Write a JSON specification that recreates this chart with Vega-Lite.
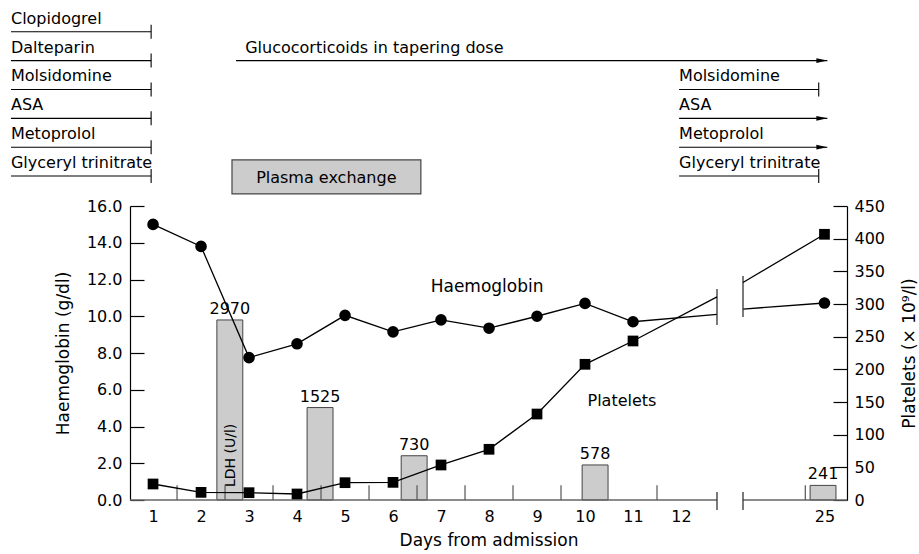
{
  "$schema": "https://vega.github.io/schema/vega-lite/v6.json",
  "width": 717,
  "height": 294,
  "autosize": {"type": "none"},
  "padding": {"left": 130, "top": 206, "right": 72, "bottom": 54},
  "background": "white",
  "config": {
    "font": "DejaVu Sans",
    "view": {"stroke": null},
    "axis": {"grid": false, "labelOverlap": false, "labelFont": "DejaVu Sans", "titleFont": "DejaVu Sans", "labelFontSize": 16, "titleFontSize": 17, "titleFontWeight": "normal", "labelColor": "black", "titleColor": "black", "domainColor": "black", "tickColor": "black", "domainWidth": 1.2, "tickWidth": 1.2},
    "text": {"font": "DejaVu Sans", "fontSize": 16, "color": "black"}
  },
  "datasets": {
    "ldh": [
      {"day": 2.6, "x0": 2.33, "x1": 2.87, "ldh": 2970},
      {"day": 4.48, "x0": 4.21, "x1": 4.75, "ldh": 1525},
      {"day": 6.44, "x0": 6.17, "x1": 6.71, "ldh": 730},
      {"day": 10.21, "x0": 9.94, "x1": 10.48, "ldh": 578},
      {"day": 24.97, "x0": 24.7, "x1": 25.24, "ldh": 241}
    ],
    "hb": [
      {"day": 1, "hb": 15.0, "seg": "a", "kind": "obs"},
      {"day": 2, "hb": 13.8, "seg": "a", "kind": "obs"},
      {"day": 3, "hb": 7.75, "seg": "a", "kind": "obs"},
      {"day": 4, "hb": 8.5, "seg": "a", "kind": "obs"},
      {"day": 5, "hb": 10.05, "seg": "a", "kind": "obs"},
      {"day": 6, "hb": 9.15, "seg": "a", "kind": "obs"},
      {"day": 7, "hb": 9.8, "seg": "a", "kind": "obs"},
      {"day": 8, "hb": 9.35, "seg": "a", "kind": "obs"},
      {"day": 9, "hb": 10.0, "seg": "a", "kind": "obs"},
      {"day": 10, "hb": 10.7, "seg": "a", "kind": "obs"},
      {"day": 11, "hb": 9.7, "seg": "a", "kind": "obs"},
      {"day": 12.75, "hb": 10.1, "seg": "a", "kind": "cut"},
      {"day": 23.3, "hb": 10.39, "seg": "b", "kind": "cut"},
      {"day": 25, "hb": 10.72, "seg": "b", "kind": "obs"}
    ],
    "plt": [
      {"day": 1, "plt": 24.5, "seg": "a", "kind": "obs"},
      {"day": 2, "plt": 11.7, "seg": "a", "kind": "obs"},
      {"day": 3, "plt": 11.2, "seg": "a", "kind": "obs"},
      {"day": 4, "plt": 9.2, "seg": "a", "kind": "obs"},
      {"day": 5, "plt": 26.5, "seg": "a", "kind": "obs"},
      {"day": 6, "plt": 27, "seg": "a", "kind": "obs"},
      {"day": 7, "plt": 53.6, "seg": "a", "kind": "obs"},
      {"day": 8, "plt": 77.6, "seg": "a", "kind": "obs"},
      {"day": 9, "plt": 131.6, "seg": "a", "kind": "obs"},
      {"day": 10, "plt": 207.7, "seg": "a", "kind": "obs"},
      {"day": 11, "plt": 243.4, "seg": "a", "kind": "obs"},
      {"day": 12.75, "plt": 311, "seg": "a", "kind": "cut"},
      {"day": 23.3, "plt": 333, "seg": "b", "kind": "cut"},
      {"day": 25, "plt": 406.7, "seg": "b", "kind": "obs"}
    ],
    "drugs": [
      {"drug": "Clopidogrel", "x0": -1.96, "x1": 0.96, "tx": -1.96, "lvl": 1, "end": "bar"},
      {"drug": "Dalteparin", "x0": -1.96, "x1": 0.96, "tx": -1.96, "lvl": 2, "end": "bar"},
      {"drug": "Molsidomine", "x0": -1.96, "x1": 0.96, "tx": -1.96, "lvl": 3, "end": "bar"},
      {"drug": "ASA", "x0": -1.96, "x1": 0.96, "tx": -1.96, "lvl": 4, "end": "bar"},
      {"drug": "Metoprolol", "x0": -1.96, "x1": 0.96, "tx": -1.96, "lvl": 5, "end": "bar"},
      {"drug": "Glyceryl trinitrate", "x0": -1.96, "x1": 0.96, "tx": -1.96, "lvl": 6, "end": "bar"},
      {"drug": "Glucocorticoids in tapering dose", "x0": 2.73, "x1": 25.06, "tx": 2.92, "lvl": 2, "end": "arrow"},
      {"drug": "Molsidomine", "x0": 11.96, "x1": 24.88, "tx": 11.96, "lvl": 3, "end": "bar"},
      {"drug": "ASA", "x0": 11.96, "x1": 25.06, "tx": 11.96, "lvl": 4, "end": "arrow"},
      {"drug": "Metoprolol", "x0": 11.96, "x1": 25.06, "tx": 11.96, "lvl": 5, "end": "arrow"},
      {"drug": "Glyceryl trinitrate", "x0": 11.96, "x1": 24.88, "tx": 11.96, "lvl": 6, "end": "bar"}
    ],
    "plasma": [
      {"label": "Plasma exchange", "x0": 2.645, "x1": 6.58, "y0": 5.44, "y1": 6.62, "xc": 4.61, "yc": 6.07}
    ],
    "xline": [
      {"x0": 0.52, "x1": 12.75},
      {"x0": 23.3, "x1": 25.47}
    ],
    "halfticks": [
      {"t": 1.5}, {"t": 2.5}, {"t": 3.5}, {"t": 4.5}, {"t": 5.5}, {"t": 6.5},
      {"t": 7.5}, {"t": 8.5}, {"t": 9.5}, {"t": 11.5}, {"t": 24.6}
    ],
    "breaks": [
      {"bx": 12.75, "y0": 9.52, "y1": 11.48},
      {"bx": 23.3, "y0": 9.96, "y1": 12.19},
      {"bx": 12.75, "y0": -0.54, "y1": 0.44},
      {"bx": 23.3, "y0": -0.54, "y1": 0.44}
    ]
  },
  "layer": [
    {
      "data": {"name": "ldh"},
      "layer": [
        {
          "mark": {"type": "rect", "fill": "#cccccc", "stroke": "#444444", "strokeWidth": 1},
          "encoding": {
            "x": {"field": "x0", "type": "quantitative", "scale": {"type": "linear", "domain": [0.52, 12.75, 23.3, 25.47], "range": [0, 587, 613, 717], "nice": false, "zero": false},
              "axis": {"values": [1, 2, 3, 4, 5, 6, 7, 8, 9, 10, 11, 12, 25], "tickCount": 40, "format": "d", "domain": false, "ticks": false, "labelPadding": 8, "labelFlush": false, "labelOverlap": false, "title": "Days from admission", "titlePadding": 8}},
            "x2": {"field": "x1"},
            "y": {"field": "ldh", "type": "quantitative", "scale": {"domain": [0, 4850], "nice": false, "zero": true}, "axis": null},
            "y2": {"datum": 0}
          }
        },
        {
          "mark": {"type": "text", "baseline": "alphabetic", "align": "center", "dy": -6, "fontSize": 16},
          "encoding": {
            "x": {"field": "day", "type": "quantitative"},
            "y": {"field": "ldh", "type": "quantitative", "axis": null},
            "text": {"field": "ldh", "type": "quantitative", "format": "d"}
          }
        },
        {
          "data": {"values": [{"label": "LDH (U/l)", "day": 2.63, "pos": 214}]},
          "mark": {"type": "text", "angle": 270, "align": "left", "baseline": "middle", "fontSize": 14},
          "encoding": {
            "x": {"field": "day", "type": "quantitative"},
            "y": {"field": "pos", "type": "quantitative", "axis": null},
            "text": {"field": "label"}
          }
        }
      ]
    },
    {
      "layer": [
        {
          "data": {"name": "hb"},
          "mark": {"type": "line", "color": "black", "strokeWidth": 1.3},
          "encoding": {
            "x": {"field": "day", "type": "quantitative"},
            "y": {"field": "hb", "type": "quantitative", "scale": {"domain": [0, 16], "nice": false, "zero": true},
              "axis": {"orient": "left", "values": [0, 2, 4, 6, 8, 10, 12, 14, 16], "tickCount": 40, "format": ".1f", "tickSize": -14, "labelPadding": 22, "labelOverlap": false, "labelFlush": false, "title": "Haemoglobin (g/dl)", "titlePadding": 14}},
            "detail": {"field": "seg"}
          }
        },
        {
          "data": {"name": "xline"},
          "mark": {"type": "rule", "color": "#666666", "strokeWidth": 1.4},
          "encoding": {
            "x": {"field": "x0", "type": "quantitative"},
            "x2": {"field": "x1"},
            "y": {"datum": 0, "type": "quantitative"}
          }
        },
        {
          "data": {"name": "halfticks"},
          "mark": {"type": "rule", "color": "#555555", "strokeWidth": 1.2},
          "encoding": {
            "x": {"field": "t", "type": "quantitative"},
            "y": {"datum": 0, "type": "quantitative"},
            "y2": {"datum": 0.8}
          }
        },
        {
          "data": {"name": "breaks"},
          "mark": {"type": "rule", "color": "#333333", "strokeWidth": 1.3},
          "encoding": {
            "x": {"field": "bx", "type": "quantitative"},
            "y": {"field": "y0", "type": "quantitative"},
            "y2": {"field": "y1"}
          }
        },
        {
          "data": {"name": "hb"},
          "transform": [{"filter": "datum.kind == 'obs'"}],
          "mark": {"type": "point", "shape": "circle", "filled": true, "color": "black", "opacity": 1, "size": 135},
          "encoding": {
            "x": {"field": "day", "type": "quantitative"},
            "y": {"field": "hb", "type": "quantitative"}
          }
        },
        {
          "data": {"values": [{"label": "Haemoglobin", "day": 7.96, "hb": 11.6}]},
          "mark": {"type": "text", "align": "center", "baseline": "middle", "fontSize": 17},
          "encoding": {
            "x": {"field": "day", "type": "quantitative"},
            "y": {"field": "hb", "type": "quantitative"},
            "text": {"field": "label"}
          }
        }
      ]
    },
    {
      "layer": [
        {
          "data": {"name": "plt"},
          "mark": {"type": "line", "color": "black", "strokeWidth": 1.3},
          "encoding": {
            "x": {"field": "day", "type": "quantitative"},
            "y": {"field": "plt", "type": "quantitative", "scale": {"domain": [0, 450], "nice": false, "zero": true},
              "axis": {"orient": "right", "values": [0, 50, 100, 150, 200, 250, 300, 350, 400, 450], "tickCount": 40, "format": "d", "tickSize": -14, "labelPadding": 21, "labelOverlap": false, "labelFlush": false, "title": "Platelets (× 10⁹/l)", "titleAngle": 270, "titlePadding": 34}},
            "detail": {"field": "seg"}
          }
        },
        {
          "data": {"name": "plt"},
          "transform": [{"filter": "datum.kind == 'obs'"}],
          "mark": {"type": "point", "shape": "square", "filled": true, "color": "black", "opacity": 1, "size": 115},
          "encoding": {
            "x": {"field": "day", "type": "quantitative"},
            "y": {"field": "plt", "type": "quantitative"}
          }
        },
        {
          "data": {"values": [{"label": "Platelets", "day": 10.77, "plt": 151.5}]},
          "mark": {"type": "text", "align": "center", "baseline": "middle", "fontSize": 16},
          "encoding": {
            "x": {"field": "day", "type": "quantitative"},
            "y": {"field": "plt", "type": "quantitative"},
            "text": {"field": "label"}
          }
        }
      ]
    },
    {
      "layer": [
        {
          "data": {"name": "drugs"},
          "mark": {"type": "rule", "color": "black", "strokeWidth": 1.1},
          "encoding": {
            "x": {"field": "x0", "type": "quantitative"},
            "x2": {"field": "x1"},
            "y": {"field": "lvl", "type": "quantitative", "scale": {"domain": [7.037, 17.221], "reverse": true, "nice": false, "zero": false}, "axis": null}
          }
        },
        {
          "data": {"name": "drugs"},
          "mark": {"type": "text", "align": "left", "baseline": "alphabetic", "dy": -8, "fontSize": 16},
          "encoding": {
            "x": {"field": "tx", "type": "quantitative"},
            "y": {"field": "lvl", "type": "quantitative", "axis": null},
            "text": {"field": "drug"}
          }
        },
        {
          "data": {"name": "drugs"},
          "transform": [{"filter": "datum.end == 'bar'"}],
          "mark": {"type": "tick", "orient": "vertical", "size": 14, "thickness": 1.1, "color": "black", "opacity": 1},
          "encoding": {
            "x": {"field": "x1", "type": "quantitative"},
            "y": {"field": "lvl", "type": "quantitative", "axis": null}
          }
        },
        {
          "data": {"name": "drugs"},
          "transform": [{"filter": "datum.end == 'arrow'"}],
          "mark": {"type": "point", "shape": "M0,0L-1,-0.22L-1,0.22Z", "filled": true, "color": "black", "opacity": 1, "size": 484},
          "encoding": {
            "x": {"field": "x1", "type": "quantitative"},
            "y": {"field": "lvl", "type": "quantitative", "axis": null}
          }
        },
        {
          "data": {"name": "plasma"},
          "mark": {"type": "rect", "fill": "#cccccc", "stroke": "#444444", "strokeWidth": 1.2},
          "encoding": {
            "x": {"field": "x0", "type": "quantitative"},
            "x2": {"field": "x1"},
            "y": {"field": "y0", "type": "quantitative", "axis": null},
            "y2": {"field": "y1"}
          }
        },
        {
          "data": {"name": "plasma"},
          "mark": {"type": "text", "align": "center", "baseline": "middle", "fontSize": 16},
          "encoding": {
            "x": {"field": "xc", "type": "quantitative"},
            "y": {"field": "yc", "type": "quantitative", "axis": null},
            "text": {"field": "label"}
          }
        }
      ]
    }
  ],
  "resolve": {"scale": {"y": "independent"}}
}
